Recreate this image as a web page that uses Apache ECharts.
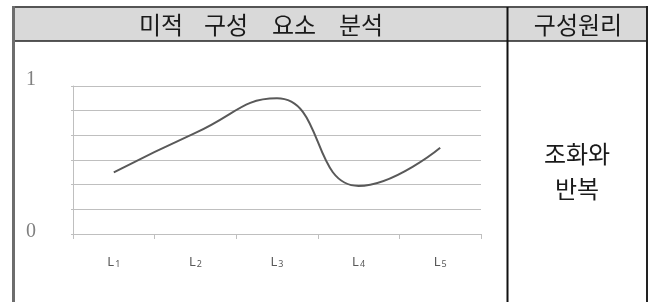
<!DOCTYPE html>
<html>
<head>
<meta charset="utf-8">
<script src="https://cdn.jsdelivr.net/npm/echarts@6/dist/echarts.min.js"></script>
<style>
html, body { margin: 0; padding: 0; background: #fff; }
#chart { width: 652px; height: 302px; }
</style>
</head>
<body>
<div id="chart"></div>
<script>
var categories = ['1', '2', '3', '4', '5'];
var values = [0.50, 0.82, 1.10, 0.39, 0.70];
var headerWords = ['미적', '구성', '요소', '분석'];
var headerRight = '구성원리';
var principle = '조화와\n반복';
var yMarks = ['1', '0'];

var kr = '"Noto Sans CJK KR", sans-serif';
var chart = echarts.init(document.getElementById('chart'));

// header words spaced out like the original table
var wordX = [161, 226, 294, 361];
var headerGraphics = headerWords.map(function (w, i) {
    return { type: 'text', x: wordX[i], y: 25, style: { text: w, font: '24px ' + kr, fill: '#1a1a1a', textAlign: 'center', textVerticalAlign: 'middle' } };
});

var option = {
    backgroundColor: '#fff',
    animation: false,
    grid: { left: 73, right: 171, top: 86, bottom: 68 },
    xAxis: {
        type: 'category',
        data: categories,
        boundaryGap: true,
        axisLine: { lineStyle: { color: '#bfbfbf', width: 1 } },
        axisTick: { show: true, length: 5, lineStyle: { color: '#bfbfbf' } },
        axisLabel: {
            margin: 22,
            formatter: function (v) { return '{l|L}{s|' + v + '}'; },
            rich: {
                l: { fontFamily: 'Noto Sans', fontSize: 13, color: '#595959' },
                s: { fontFamily: 'Noto Sans', fontSize: 9, color: '#595959', padding: [4, 0, 0, 1] }
            }
        }
    },
    yAxis: {
        type: 'value',
        min: 0,
        max: 1.2,
        interval: 0.2,
        axisLine: { show: true, lineStyle: { color: '#bfbfbf' } },
        axisTick: { show: true, length: 2, lineStyle: { color: '#bfbfbf' } },
        axisLabel: { show: false },
        splitLine: { lineStyle: { color: '#bfbfbf', width: 1 } }
    },
    series: [{
        type: 'line',
        data: values,
        smooth: true,
        symbol: 'none',
        lineStyle: { color: '#595959', width: 2 }
    }],
    graphic: [
        { type: 'rect', shape: { x: 13, y: 7, width: 634, height: 34 }, style: { fill: '#d9d9d9' }, z: -1 },
        { type: 'line', shape: { x1: 12, y1: 7, x2: 648, y2: 7 }, style: { stroke: '#555', lineWidth: 2 } },
        { type: 'line', shape: { x1: 13, y1: 41, x2: 648, y2: 41 }, style: { stroke: '#222', lineWidth: 1.5 } },
        { type: 'line', shape: { x1: 13.5, y1: 6, x2: 13.5, y2: 302 }, style: { stroke: '#6d6d6d', lineWidth: 3 } },
        { type: 'line', shape: { x1: 507.5, y1: 7, x2: 507.5, y2: 302 }, style: { stroke: '#111', lineWidth: 2 } },
        { type: 'line', shape: { x1: 647, y1: 6, x2: 647, y2: 302 }, style: { stroke: '#222', lineWidth: 2 } },
        { type: 'text', x: 578, y: 25, style: { text: headerRight, font: '24px ' + kr, fill: '#1a1a1a', textAlign: 'center', textVerticalAlign: 'middle' } },
        { type: 'text', x: 577, y: 171, style: { text: principle, font: '24px ' + kr, fill: '#1a1a1a', textAlign: 'center', textVerticalAlign: 'middle', lineHeight: 35 } },
        { type: 'text', x: 31, y: 80, style: { text: yMarks[0], font: '20px "Liberation Serif"', fill: '#808080', textAlign: 'center', textVerticalAlign: 'middle' } },
        { type: 'text', x: 31, y: 232, style: { text: yMarks[1], font: '20px "Liberation Serif"', fill: '#808080', textAlign: 'center', textVerticalAlign: 'middle' } }
    ].concat(headerGraphics)
};
chart.setOption(option);
</script>
</body>
</html>
